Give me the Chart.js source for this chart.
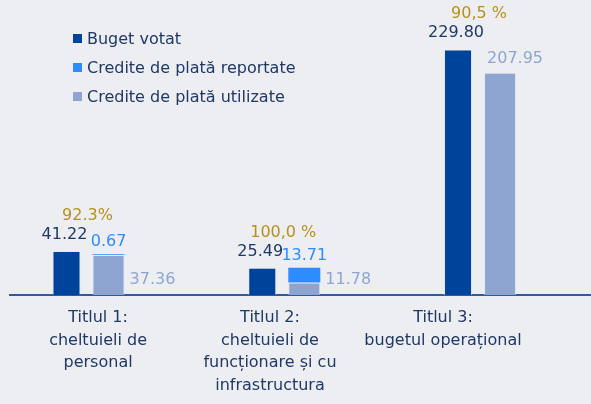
<!DOCTYPE html>
<html>
<head>
<meta charset="utf-8">
<script src="https://cdn.jsdelivr.net/npm/chart.js@4.4.1/dist/chart.umd.min.js"></script>
<style>
  body { margin: 0; background: #eceef2; }
  #wrap { position: relative; width: 591px; height: 404px; }
  #legend { position: absolute; left: 73px; top: 24px; font: 16px "DejaVu Sans", sans-serif; color: #1f3864; }
  #legend div { height: 29px; line-height: 29px; white-space: nowrap; }
  #legend span { display: inline-block; width: 9px; height: 9px; margin-right: 5px; vertical-align: 1px; }
</style>
</head>
<body>
<div id="wrap">
  <canvas id="budgetChart"></canvas>
  <div id="legend"></div>
</div>
<script>
const categories = [
    ['Titlul 1:', 'cheltuieli de', 'personal'],
    ['Titlul 2:', 'cheltuieli de', 'funcționare și cu', 'infrastructura'],
    ['Titlul 3:', 'bugetul operațional']
];
const bugetVotat = [41.22, 25.49, 229.80];
const crediteReportate = [0.67, 13.71, null];
const crediteUtilizate = [37.36, 11.78, 207.95];
const executie = ['92.3%', '100,0 %', '90,5 %'];

const navy = '#1f3864';
const darkBlue = '#00439a';
const brightBlue = '#2d8cff';
const lightBlue = '#8fa5d1';
const gold = '#b8901a';
const font = '16px "DejaVu Sans", sans-serif';

// label positions under the axis are a bit off the bars in the original
const tickNudge = [0.054, -0.068, -0.184];

const toPoints = arr => arr.map((v, i) => ({ x: i, y: v }));

const valueLabels = {
    id: 'valueLabels',
    afterDatasetsDraw(chart) {
        const ctx = chart.ctx;
        const buget = chart.getDatasetMeta(0).data;
        const util = chart.getDatasetMeta(1).data;
        const rep = chart.getDatasetMeta(2).data;
        ctx.save();
        ctx.font = font;
        ctx.textBaseline = 'alphabetic';
        categories.forEach((c, i) => {
            const b = buget[i];
            const u = util[i];
            ctx.fillStyle = navy;
            ctx.textAlign = 'center';
            ctx.fillText(bugetVotat[i].toFixed(2), b.x - 2, b.y - 12);
            if (crediteReportate[i] != null) {
                const r = rep[i];
                ctx.fillStyle = brightBlue;
                ctx.fillText(crediteReportate[i].toFixed(2), r.x, r.y - 8);
                ctx.fillStyle = lightBlue;
                ctx.textAlign = 'left';
                ctx.fillText(crediteUtilizate[i].toFixed(2), u.x + u.width / 2 + 5, u.base - 11);
            } else {
                ctx.fillStyle = lightBlue;
                ctx.textAlign = 'left';
                ctx.fillText(crediteUtilizate[i].toFixed(2), u.x - u.width / 2 + 3, u.y - 10);
            }
            ctx.fillStyle = gold;
            ctx.textAlign = 'center';
            ctx.fillText(executie[i], (b.x + u.x) / 2, b.y - 31);
        });
        ctx.restore();
    }
};

const data = {
    datasets: [{
        label: 'Buget votat',
        data: toPoints(bugetVotat),
        backgroundColor: darkBlue,
        borderColor: 'rgba(220, 228, 245, 0.6)',
        borderWidth: 1,
        stack: 'votat',
        barPercentage: 0.667
    }, {
        label: 'Credite de plată utilizate',
        data: toPoints(crediteUtilizate),
        backgroundColor: lightBlue,
        borderColor: 'rgba(220, 228, 245, 0.6)',
        borderWidth: 1,
        stack: 'plati',
        barPercentage: 0.762
    }, {
        label: 'Credite de plată reportate',
        data: toPoints(crediteReportate),
        backgroundColor: brightBlue,
        stack: 'plati',
        barPercentage: 0.762
    }]
};

const config = {
    type: 'bar',
    data: data,
    options: {
        responsive: true,
        maintainAspectRatio: false,
        animation: false,
        categoryPercentage: 0.489,
        layout: { padding: { left: 10, right: 0, top: 0, bottom: 0 } },
        plugins: {
            legend: { display: false },
            tooltip: { enabled: false }
        },
        scales: {
            x: {
                type: 'linear',
                min: -0.396,
                max: 2.572,
                offset: false,
                stacked: true,
                grid: { display: false, drawTicks: false },
                border: { display: true, color: '#2e5aa0', width: 2 },
                afterBuildTicks: scale => {
                    scale.ticks = categories.map((c, i) => ({ value: i + tickNudge[i] }));
                },
                afterFit: scale => { scale.height = 109; },
                ticks: {
                    autoSkip: false,
                    maxRotation: 0,
                    padding: 12,
                    color: navy,
                    font: { family: '"DejaVu Sans", sans-serif', size: 16, lineHeight: 1.4 },
                    callback: (value, index) => categories[index]
                }
            },
            y: {
                display: false,
                stacked: true,
                min: 0,
                max: 276
            }
        }
    },
    plugins: [valueLabels]
};

const budgetChart = new Chart(document.getElementById('budgetChart'), config);

// legend in the order of the original
const legendOrder = [0, 2, 1];
legendOrder.forEach(k => {
    const ds = data.datasets[k];
    const row = document.createElement('div');
    row.innerHTML = '<span style="background:' + ds.backgroundColor + '"></span>' + ds.label;
    document.getElementById('legend').appendChild(row);
});
</script>
</body>
</html>
